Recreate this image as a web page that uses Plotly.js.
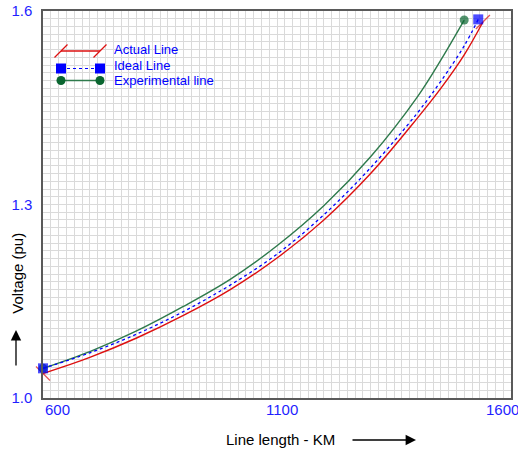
<!DOCTYPE html>
<html>
<head>
<meta charset="utf-8">
<script src="https://cdn.plot.ly/plotly-3.0.1.min.js"></script>
<style>
html,body{margin:0;padding:0;background:#fff;}
#chart{width:518px;height:451px;}
</style>
</head>
<body>
<div id="chart"></div>
<script>
// ---- Data ----
var seriesNames = ["Actual Line", "Ideal Line", "Experimental line"];

var actualX = [600, 700, 800, 900, 1000, 1100, 1200, 1300, 1400, 1450, 1500, 1540];
var actualY = [1.038, 1.063, 1.093, 1.128, 1.168, 1.217, 1.276, 1.348, 1.434, 1.480, 1.532, 1.583];

var idealX = [600, 700, 800, 900, 1000, 1100, 1200, 1300, 1400, 1450, 1500, 1530];
var idealY = [1.046, 1.070, 1.099, 1.134, 1.175, 1.223, 1.284, 1.357, 1.442, 1.491, 1.546, 1.587];

var experX = [600, 700, 800, 900, 1000, 1100, 1200, 1300, 1400, 1450, 1500];
var experY = [1.046, 1.072, 1.104, 1.142, 1.184, 1.236, 1.298, 1.374, 1.467, 1.524, 1.586];

var xTickVals = [600, 1100, 1600];
var xTickText = ["600", "1100", "1600"];
var yTickVals = [1.0, 1.3, 1.6];
var yTickText = ["1.0", "1.3", "1.6"];

var xTitle = "Line length - KM";
var yTitle = "Voltage (pu)";

// legend sample positions (pixel offsets inside the plot area, overlay axes)
var legendLineX = [18, 57];
var legendRowY = [40, 57.5, 69.5];
var legendTextX = 69;
var legendTextY = [38, 54.5, 69.5];

// ---- styling ----
var RED = "#dd1010", BLUE = "#0000ff", GREEN = "#2e7a4c", GREEN_M = "#0a6630";
var TICKBLUE = "#1f1fff";
var FONT = "Liberation Sans, Arial, sans-serif";

function endSizes(n, s){ var a=[]; for(var i=0;i<n;i++){a.push((i===0||i===n-1)?s:0);} return a; }
function endSymbols(n, first, last, mid){ var a=[]; for(var i=0;i<n;i++){a.push(i===0?first:(i===n-1?last:mid));} return a; }

var traces = [
  { x: actualX, y: actualY, mode: "lines+markers", name: seriesNames[0],
    line: {color: RED, width: 1.4, shape: "spline", smoothing: 1},
    marker: {symbol: endSymbols(actualX.length, "line-nw", "line-ne", "circle"), size: endSizes(actualX.length, 14),
             color: RED, line: {color: RED, width: 1.3}},
    cliponaxis: false, showlegend: false },
  { x: experX, y: experY, mode: "lines+markers", name: seriesNames[2],
    line: {color: GREEN, width: 1.4, shape: "spline", smoothing: 1},
    marker: {symbol: "circle", size: endSizes(experX.length, 9), color: GREEN_M, line: {width: 0}},
    cliponaxis: false, showlegend: false },
  { x: idealX, y: idealY, mode: "lines+markers", name: seriesNames[1],
    line: {color: BLUE, width: 1.3, dash: "dot", shape: "spline", smoothing: 1},
    marker: {symbol: "square", size: endSizes(idealX.length, 10), color: BLUE, line: {width: 0}},
    cliponaxis: false, showlegend: false },
  // custom legend samples
  { x: legendLineX, y: [legendRowY[0], legendRowY[0]], xaxis: "x2", yaxis: "y2", mode: "lines+markers",
    line: {color: RED, width: 1.3}, marker: {symbol: "line-ne", size: 13, line: {color: RED, width: 1.3}},
    showlegend: false, hoverinfo: "skip", cliponaxis: false },
  { x: legendLineX, y: [legendRowY[1], legendRowY[1]], xaxis: "x2", yaxis: "y2", mode: "lines+markers",
    line: {color: BLUE, width: 1.2, dash: "dot"}, marker: {symbol: "square", size: 10, color: BLUE},
    showlegend: false, hoverinfo: "skip", cliponaxis: false },
  { x: legendLineX, y: [legendRowY[2], legendRowY[2]], xaxis: "x2", yaxis: "y2", mode: "lines+markers",
    line: {color: GREEN, width: 1.5}, marker: {symbol: "circle", size: 9, color: GREEN_M},
    showlegend: false, hoverinfo: "skip", cliponaxis: false }
];

var annotations = [];
for (var i = 0; i < seriesNames.length; i++) {
  annotations.push({ xref: "x2", yref: "y2", x: legendTextX, y: legendTextY[i], text: seriesNames[i],
    showarrow: false, xanchor: "left", yanchor: "middle", font: {family: FONT, size: 13, color: BLUE} });
}
// x tick labels
var xShift = [0, 5, -9];
var xAnchor = ["left", "center", "center"];
for (var j = 0; j < xTickVals.length; j++) {
  annotations.push({ xref: "x", yref: "paper", x: xTickVals[j], y: -0.031, text: xTickText[j],
    showarrow: false, xanchor: xAnchor[j], yanchor: "middle", xshift: xShift[j],
    font: {family: FONT, size: 15, color: TICKBLUE} });
}
// axis titles
annotations.push({ xref: "paper", yref: "paper", x: 0.5075, y: -0.106, text: xTitle, showarrow: false,
  xanchor: "center", yanchor: "middle", font: {family: FONT, size: 15, color: "#000"} });
annotations.push({ xref: "paper", yref: "paper", x: -0.054, y: 0.323, text: yTitle, showarrow: false,
  textangle: -90, xanchor: "center", yanchor: "middle", font: {family: FONT, size: 15, color: "#000"} });
// arrows
annotations.push({ xref: "paper", yref: "paper", x: 0.797, y: -0.1085, ax: -65, ay: 0, text: "",
  showarrow: true, arrowhead: 2, arrowsize: 1.6, arrowwidth: 1.3, arrowcolor: "#000" });
annotations.push({ xref: "paper", yref: "paper", x: -0.0577, y: 0.1757, ax: 0, ay: 37, text: "",
  showarrow: true, arrowhead: 2, arrowsize: 1.6, arrowwidth: 1.3, arrowcolor: "#000" });

var layout = {
  width: 518, height: 451,
  margin: {l: 43, r: 7, t: 11, b: 53, pad: 0},
  paper_bgcolor: "#ffffff", plot_bgcolor: "#ffffff",
  font: {family: FONT, size: 15, color: TICKBLUE},
  showlegend: false,
  xaxis: {
    range: [600, 1600], tickvals: xTickVals, ticktext: xTickText, showticklabels: false,
    ticks: "", showgrid: true, gridcolor: "#dadada", gridwidth: 1, zeroline: false,
    showline: true, mirror: true, linecolor: "#5a5a5a", linewidth: 1.6,
    minor: {tick0: 600, dtick: 1000/60, showgrid: true, gridcolor: "#dadada", gridwidth: 1}
  },
  yaxis: {
    range: [1.0, 1.6], tickvals: yTickVals, ticktext: yTickText,
    ticks: "", ticklabelstandoff: 6, tickfont: {family: FONT, size: 15, color: TICKBLUE},
    showgrid: true, gridcolor: "#dadada", gridwidth: 1, zeroline: false,
    showline: true, mirror: true, linecolor: "#5a5a5a", linewidth: 1.6,
    minor: {tick0: 1.0, dtick: 0.012, showgrid: true, gridcolor: "#dadada", gridwidth: 1}
  },
  xaxis2: {overlaying: "x", range: [0, 468], visible: false, fixedrange: true},
  yaxis2: {overlaying: "y", range: [387, 0], visible: false, fixedrange: true},
  annotations: annotations
};

Plotly.newPlot("chart", traces, layout, {displayModeBar: false, staticPlot: true});
</script>
</body>
</html>
